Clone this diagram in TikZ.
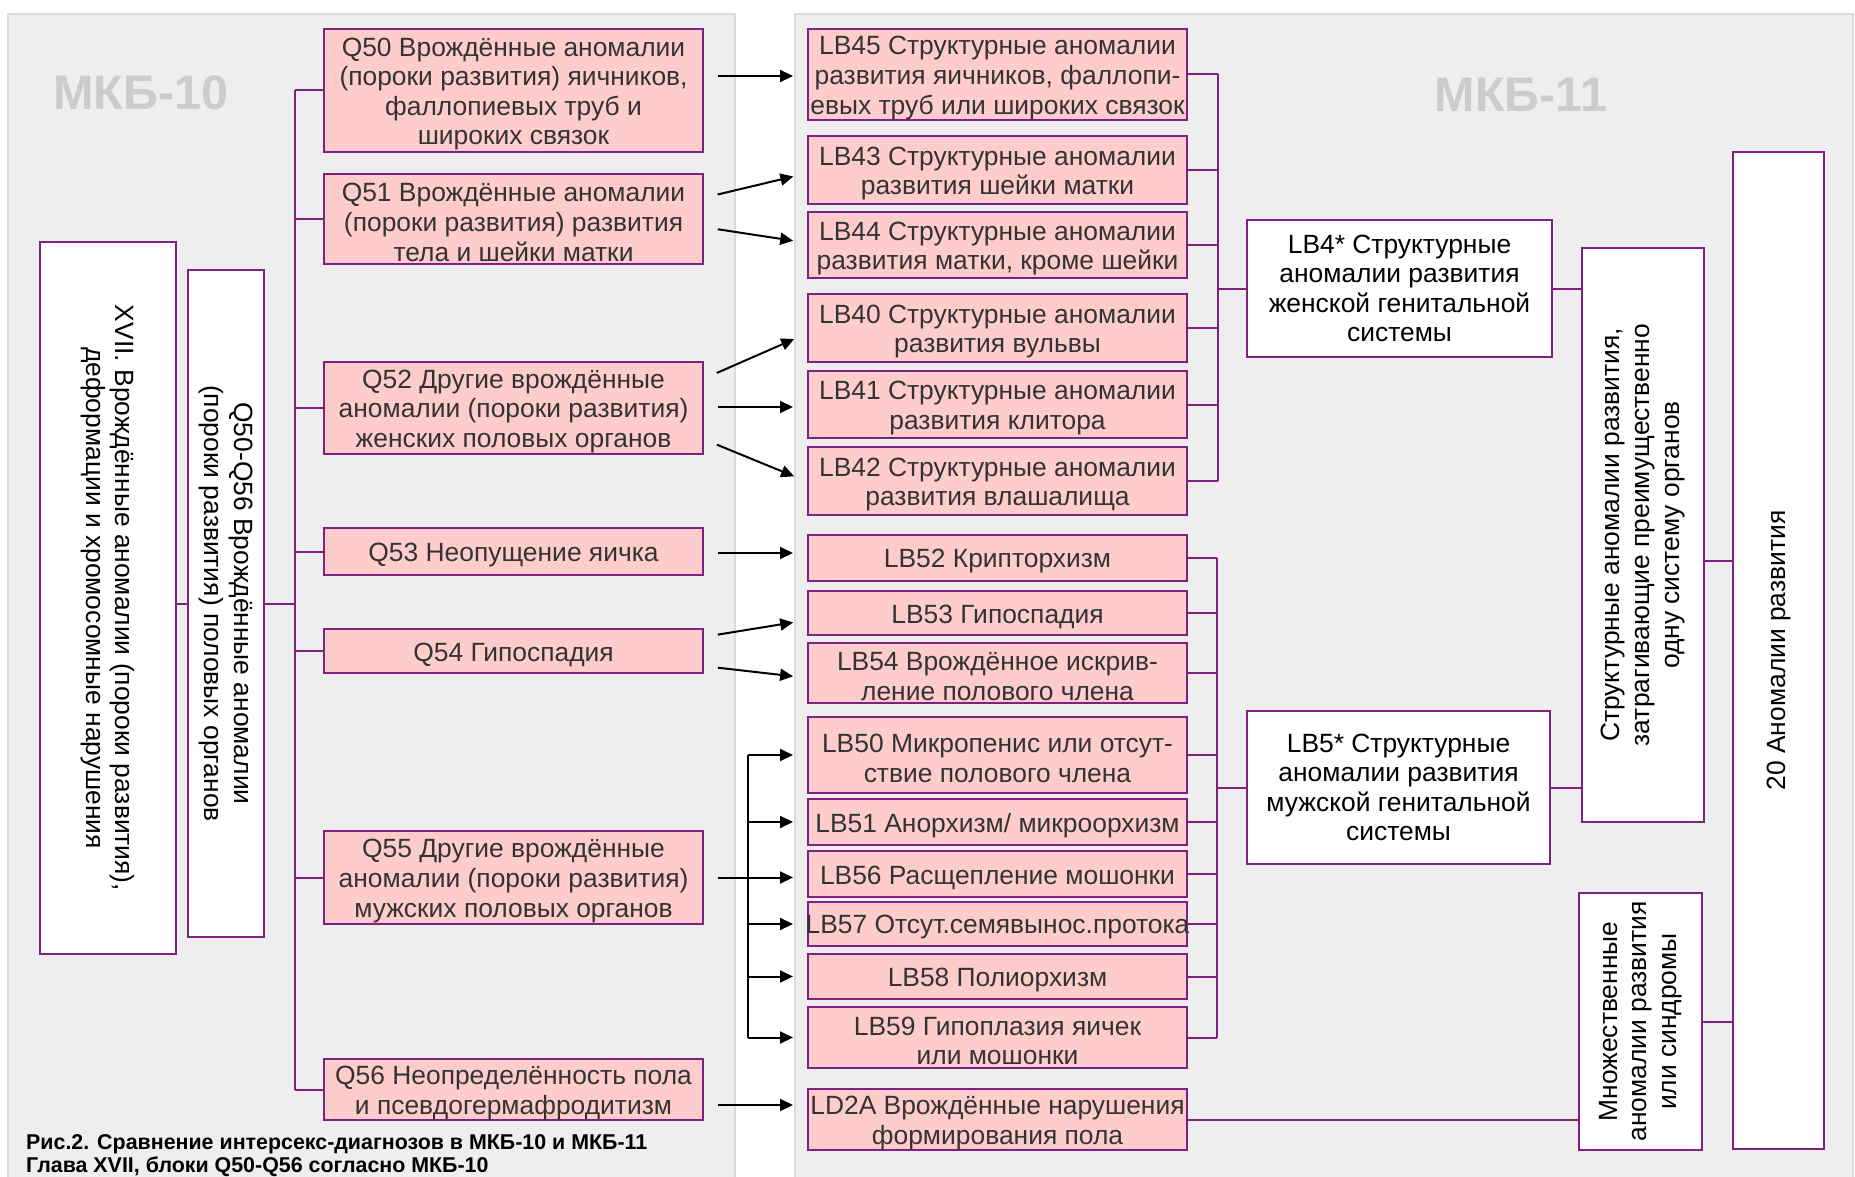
\documentclass[tikz,border=0pt]{standalone}
\usepackage{fontspec}
\setmainfont{Liberation Sans}
\usetikzlibrary{positioning, arrows.meta}
\definecolor{boxPurple}{RGB}{128,32,128}
\definecolor{pinkFill}{RGB}{255,204,204}
\definecolor{panelGray}{RGB}{238,238,238}
\definecolor{panelEdge}{RGB}{218,218,218}
\definecolor{markGray}{RGB}{204,204,204}
\definecolor{textGray}{RGB}{51,51,51}
\tikzstyle{canvas} = [x = 1pt, y = -1pt]
\tikzstyle{panel} = [fill=panelGray, draw=panelEdge, line width=2pt]
\tikzstyle{pinkBox} = [draw=boxPurple, fill=pinkFill, line width=2pt, inner sep=0pt, outer sep=0pt]
\tikzstyle{pinkText} = [align=center, inner sep=0pt, yshift=-3.5pt, text=textGray, font=\fontsize{26.4}{29.6}\selectfont]
\tikzstyle{whiteBox} = [draw=boxPurple, fill=white, line width=2pt, inner sep=0pt, outer sep=0pt]
\tikzstyle{whiteText} = [align=center, inner sep=0pt, text=black, font=\fontsize{26.4}{29.6}\selectfont]
\tikzstyle{bracketLine} = [draw=boxPurple, line width=2pt]
\tikzstyle{plainLine} = [draw=black, line width=2pt]
\tikzstyle{arrowLine} = [draw=black, line width=2pt, -{Triangle[length=13pt, width=12pt]}, shorten <= 15pt, shorten >= 15pt]
\tikzstyle{markText} = [font=\fontsize{48.5}{48.5}\selectfont\bfseries, text=markGray]
\tikzstyle{captionText} = [font=\fontsize{21.4}{23}\selectfont\bfseries, align=left, inner sep=0pt]
\newcommand{\codeBox}[7]{\node [#1Box, minimum width = {(#5 - #3)*1pt}, minimum height = {(#6 - #4)*1pt}] (#2) at ({(#3 + #5) / 2}, {(#4 + #6) / 2}) {};
  \node [#1Text] (#2Text) at (#2.center) {#7};}
\newcommand{\sideBox}[8]{\node [#1Box, #1Text, rotate = #7, minimum width = {(#6 - #4)*1pt}, minimum height = {(#5 - #3)*1pt}] (#2) at ({(#3 + #5) / 2}, {(#4 + #6) / 2}) {#8};}
\newcommand{\flowArrow}[4]{\draw [arrowLine] ([yshift = #2pt] #1.east) -- ([yshift = #4pt] #3.west);}

\begin{document}
\begin{tikzpicture}[canvas]
  \useasboundingbox (0,0) rectangle (1855,1177);
  \fill [white] (0,0) rectangle (1855,1177);
  \draw [panel] (8,14) rectangle (735,1195);
  \draw [panel] (795,14) rectangle (1853,1195);
  \node [markText] (mkbTen) at (141,93) {МКБ-10};
  \node [markText] (mkbEleven) at (1521,95) {МКБ-11};
  \node [captionText, anchor=west] (caption) at (26,1156) {Рис.2. Сравнение интерсекс-диагнозов в МКБ-10 и МКБ-11\\Глава XVII, блоки Q50-Q56 согласно МКБ-10};

  % МКБ-10
  \sideBox{white}{xvii}{40}{242}{176}{954}{-90}{XVII. Врождённые аномалии (пороки развития),\\деформации и хромосомные нарушения}
  \sideBox{white}{q5056}{188}{270}{264}{937}{-90}{Q50-Q56 Врождённые аномалии\\(пороки развития) половых органов}
  \codeBox{pink}{q50}{324}{29}{703}{152}{Q50 Врождённые аномалии\\(пороки развития) яичников,\\фаллопиевых труб и\\широких связок}
  \codeBox{pink}{q51}{324}{174}{703}{264}{Q51 Врождённые аномалии\\(пороки развития) развития\\тела и шейки матки}
  \codeBox{pink}{q52}{324}{362}{703}{454}{Q52 Другие врождённые\\аномалии (пороки развития)\\женских половых органов}
  \codeBox{pink}{q53}{324}{528}{703}{575}{Q53 Неопущение яичка}
  \codeBox{pink}{q54}{324}{629}{703}{673}{Q54 Гипоспадия}
  \codeBox{pink}{q55}{324}{831}{703}{924}{Q55 Другие врождённые\\аномалии (пороки развития)\\мужских половых органов}
  \codeBox{pink}{q56}{324}{1059}{703}{1120}{Q56 Неопределённость пола\\и псевдогермафродитизм}

  % МКБ-11
  \codeBox{pink}{lb45}{808}{29}{1187}{120}{LB45 Структурные аномалии\\развития яичников, фаллопи-\\евых труб или широких связок}
  \codeBox{pink}{lb43}{808}{136}{1187}{204}{LB43 Структурные аномалии\\развития шейки матки}
  \codeBox{pink}{lb44}{808}{212}{1187}{278}{LB44 Структурные аномалии\\развития матки, кроме шейки}
  \codeBox{pink}{lb40}{808}{294}{1187}{362}{LB40 Структурные аномалии\\развития вульвы}
  \codeBox{pink}{lb41}{808}{371}{1187}{438}{LB41 Структурные аномалии\\развития клитора}
  \codeBox{pink}{lb42}{808}{447}{1187}{515}{LB42 Структурные аномалии\\развития влашалища}
  \codeBox{pink}{lb52}{808}{535}{1187}{581}{LB52 Крипторхизм}
  \codeBox{pink}{lb53}{808}{591}{1187}{635}{LB53 Гипоспадия}
  \codeBox{pink}{lb54}{808}{643}{1187}{703}{LB54 Врождённое искрив-\\ление полового члена}
  \codeBox{pink}{lb50}{808}{717}{1187}{793}{LB50 Микропенис или отсут-\\ствие полового члена}
  \codeBox{pink}{lb51}{808}{799}{1187}{845}{LB51 Анорхизм/ микроорхизм}
  \codeBox{pink}{lb56}{808}{851}{1187}{897}{LB56 Расщепление мошонки}
  \codeBox{pink}{lb57}{808}{902}{1187}{946}{LB57 Отсут.семявынос.протока}
  \codeBox{pink}{lb58}{808}{954}{1187}{999}{LB58 Полиорхизм}
  \codeBox{pink}{lb59}{808}{1007}{1187}{1068}{LB59 Гипоплазия яичек\\или мошонки}
  \codeBox{pink}{ld2a}{808}{1089}{1187}{1150}{LD2A Врождённые нарушения\\формирования пола}
  \codeBox{white}{lb4}{1247}{220}{1552}{357}{LB4* Структурные\\аномалии развития\\женской генитальной\\системы}
  \codeBox{white}{lb5}{1247}{711}{1550}{864}{LB5* Структурные\\аномалии развития\\мужской генитальной\\системы}
  \sideBox{white}{struct}{1582}{248}{1704}{822}{90}{Структурные аномалии развития,\\затрагивающие преимущественно\\одну систему органов}
  \sideBox{white}{multi}{1579}{893}{1702}{1150}{90}{Множественные\\аномалии развития\\или синдромы}
  \sideBox{white}{twenty}{1733}{152}{1824}{1149}{90}{20 Аномалии развития}

  % tree lines
  \coordinate (busL) at (295,0);
  \draw [bracketLine] (q5056.south) -- (q5056.south -| xvii.north);
  \draw [bracketLine] (q5056.north) -- (q5056.north -| busL);
  \draw [bracketLine] (q50.west -| busL) -- (q56.west -| busL);
  \foreach \code in {q50,q51,q52,q53,q54,q55,q56}
    \draw [bracketLine] (\code.west) -- (\code.west -| busL);

  \coordinate (busF) at (1218,0);
  \foreach \code in {lb45,lb43,lb44,lb40,lb41,lb42}
    \draw [bracketLine] (\code.east) -- (\code.east -| busF);
  \draw [bracketLine] (lb45.east -| busF) -- (lb42.east -| busF);
  \draw [bracketLine] (lb4.west) -- (lb4.west -| busF);

  \coordinate (busM) at (1217,0);
  \foreach \code in {lb52,lb53,lb54,lb50,lb51,lb56,lb57,lb58,lb59}
    \draw [bracketLine] (\code.east) -- (\code.east -| busM);
  \draw [bracketLine] (lb52.east -| busM) -- (lb59.east -| busM);
  \draw [bracketLine] (lb5.west) -- (lb5.west -| busM);

  \draw [bracketLine] (lb4.east) -- (lb4.east -| struct.north);
  \draw [bracketLine] (lb5.east) -- (lb5.east -| struct.north);
  \draw [bracketLine] ([yshift=-26pt] struct.south) -- ([yshift=-26pt] struct.south -| twenty.north);
  \draw [bracketLine] (multi.south) -- (multi.south -| twenty.north);
  \draw [bracketLine] (ld2a.east) -- (ld2a.east -| multi.north);

  % arrows
  \flowArrow{q50}{14.5}{lb45}{-1.5}
  \flowArrow{q51}{21}{lb43}{-3}
  \flowArrow{q51}{-8}{lb44}{2}
  \flowArrow{q52}{29}{lb40}{-5}
  \flowArrow{q52}{1}{lb41}{-2.5}
  \flowArrow{q52}{-31}{lb42}{-1}
  \flowArrow{q53}{-1.5}{lb52}{5}
  \flowArrow{q54}{14}{lb53}{-7}
  \flowArrow{q54}{-15}{lb54}{-5}
  \flowArrow{q56}{-15.5}{ld2a}{14.5}
  \coordinate (busQ) at (748,0);
  \draw [arrowLine] (q55.east) -- (q55.east -| lb56.west);
  \draw [plainLine] (lb50.west -| busQ) -- (lb59.west -| busQ);
  \foreach \code in {lb50,lb51,lb57,lb58,lb59}
    \draw [arrowLine, shorten <= 0pt] (\code.west -| busQ) -- (\code.west);
\end{tikzpicture}
\end{document}
